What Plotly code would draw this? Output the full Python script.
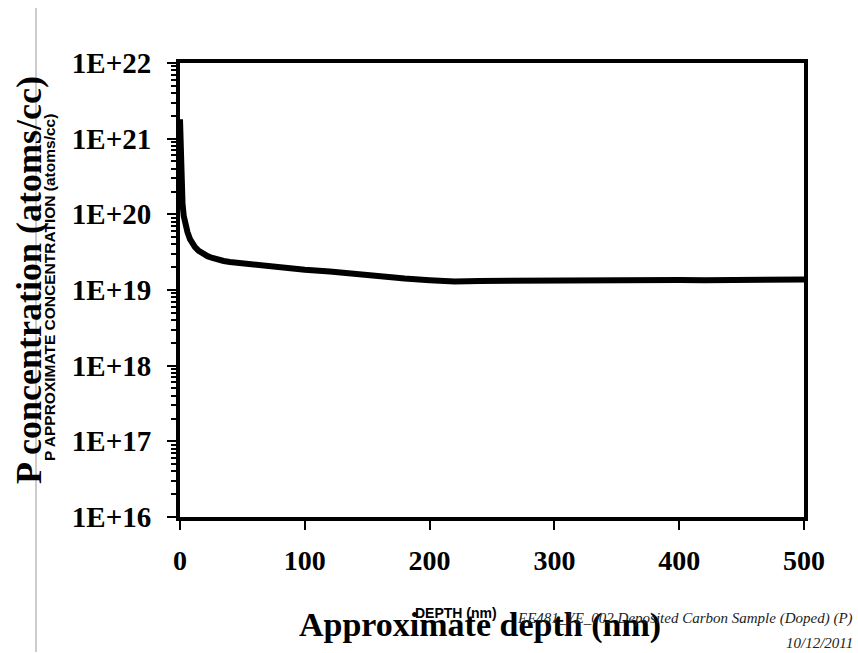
import plotly.graph_objects as go

# SIMS depth profile, P in deposited carbon
depth_nm = [0, 0.5, 1, 1.5, 2, 3, 4, 5, 6, 8, 10, 12, 15, 18, 22, 26, 30, 35, 40,
            50, 60, 70, 80, 90, 100, 120, 140, 160, 180, 200, 220, 240, 260, 280,
            300, 320, 340, 360, 380, 400, 420, 440, 460, 480, 500]
p_conc = [1.8e21, 7e20, 3.2e20, 1.9e20, 1.4e20, 9.5e19, 7.8e19, 6.6e19, 5.8e19,
          4.7e19, 4.1e19, 3.7e19, 3.3e19, 3.05e19, 2.8e19, 2.65e19, 2.52e19, 2.42e19,
          2.35e19, 2.25e19, 2.15e19, 2.1e19, 2.0e19, 1.95e19, 1.85e19, 1.75e19,
          1.62e19, 1.5e19, 1.42e19, 1.35e19, 1.3e19, 1.32e19, 1.33e19, 1.32e19,
          1.33e19, 1.34e19, 1.33e19, 1.35e19, 1.34e19, 1.36e19, 1.35e19, 1.37e19,
          1.36e19, 1.38e19, 1.38e19]

x_ticks = [0, 100, 200, 300, 400, 500]
y_ticks = [1e16, 1e17, 1e18, 1e19, 1e20, 1e21, 1e22]
y_labels = ["1E+16", "1E+17", "1E+18", "1E+19", "1E+20", "1E+21", "1E+22"]

W, H = 858, 653
L, R, T, B = 180, 804, 63, 517   # plot box in pixels

def px(x):
    return (x - L) / (R - L)

def py(y):
    return (B - y) / (B - T)

serif = "Liberation Serif, Times New Roman, serif"
sans = "Liberation Sans, Arial, sans-serif"

fig = go.Figure()
fig.add_trace(go.Scatter(x=depth_nm, y=p_conc, mode="lines",
                         line=dict(color="black", width=6), showlegend=False))

fig.update_xaxes(range=[0, 500], tickvals=x_ticks, ticks="outside", ticklen=9,
                 tickwidth=2, tickcolor="black", showline=True, linewidth=4,
                 linecolor="black", mirror=True, showgrid=False, zeroline=False,
                 ticklabelstandoff=6,
                 tickfont=dict(family=serif, size=28, color="black", weight="bold"))
fig.update_yaxes(type="log", range=[16, 22], tickvals=y_ticks, ticktext=y_labels,
                 ticks="outside", ticklen=9, tickwidth=2, tickcolor="black",
                 minor=dict(dtick="D1", ticks="outside", ticklen=5, tickwidth=2,
                            tickcolor="black", showgrid=False),
                 showline=True, linewidth=4, linecolor="black", mirror=True,
                 showgrid=False, zeroline=False, ticklabelstandoff=10,
                 tickfont=dict(family=serif, size=29, color="black", weight="bold"))

fig.add_annotation(text="<b>P concentration (atoms/cc)</b>", textangle=-90,
                   xref="paper", yref="paper", x=px(29), y=py(280),
                   xanchor="center", yanchor="middle",
                   showarrow=False, font=dict(family=serif, size=36, color="black"))
fig.add_annotation(text="<b>P APPROXIMATE CONCENTRATION (atoms/cc)</b>", textangle=-90,
                   xref="paper", yref="paper", x=px(49), y=py(288),
                   xanchor="center", yanchor="middle",
                   showarrow=False, font=dict(family=sans, size=15.5, color="black"))
fig.add_annotation(text="<b>Approximate depth (nm)</b>",
                   xref="paper", yref="paper", x=px(480), y=py(625),
                   xanchor="center", yanchor="middle",
                   showarrow=False, font=dict(family=serif, size=34, color="black"))
fig.add_annotation(text="<b>DEPTH (nm)</b>",
                   xref="paper", yref="paper", x=px(456), y=py(613),
                   xanchor="center", yanchor="middle",
                   showarrow=False, font=dict(family=sans, size=14, color="black"))
fig.add_annotation(text="<i>EE481_YE_002 Deposited Carbon Sample (Doped) (P)</i>",
                   xref="paper", yref="paper", x=px(855), y=py(618),
                   xanchor="right", yanchor="middle",
                   showarrow=False, font=dict(family=serif, size=15, color="#222"))
fig.add_annotation(text="<i>10/12/2011</i>",
                   xref="paper", yref="paper", x=px(855), y=py(643),
                   xanchor="right", yanchor="middle",
                   showarrow=False, font=dict(family=serif, size=15, color="#222"))

# thin grey rule at the left edge
fig.add_shape(type="line", xref="paper", yref="paper", x0=px(36), x1=px(36),
              y0=py(8), y1=py(652), line=dict(color="#999", width=1))

fig.update_layout(width=W, height=H, plot_bgcolor="white", paper_bgcolor="white",
                  margin=dict(l=L, r=W - R, t=T, b=H - B))

# drop the default page margin so the figure fills the window exactly
fig.write_html("out.html", config={"displayModeBar": False},
               post_script="document.body.style.margin='0';")
